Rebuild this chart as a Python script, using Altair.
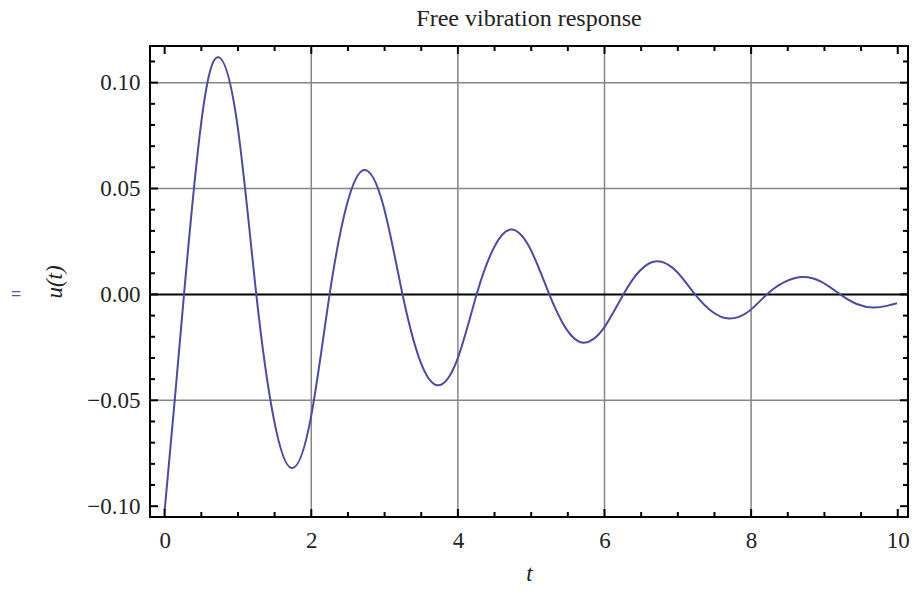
import altair as alt
import pandas as pd

# Displacement response u(t): crossings, half-way points and extrema along the curve
t_values = [0.0, 0.137, 0.264, 0.497, 0.73, 0.99, 1.25, 1.49, 1.73, 1.99, 2.25,
            2.485, 2.72, 2.98, 3.245, 3.48, 3.72, 3.99, 4.255, 4.49, 4.72, 4.98,
            5.247, 5.48, 5.71, 5.98, 6.257, 6.485, 6.71, 6.97, 7.235, 7.47, 7.70,
            7.96, 8.214, 8.46, 8.71, 8.96, 9.215, 9.44, 9.67, 9.85, 9.99]
u_values = [-0.102, -0.05, 0.0, 0.0806, 0.112, 0.0806, 0.0, -0.0590, -0.082, -0.0590, 0.0,
            0.0423, 0.0587, 0.0423, 0.0, -0.0309, -0.0429, -0.0309, 0.0, 0.0220, 0.0306, 0.0220,
            0.0, -0.0164, -0.0228, -0.0164, 0.0, 0.0113, 0.0157, 0.0113, 0.0, -0.0082, -0.0114,
            -0.0082, 0.0, 0.0059, 0.0082, 0.0059, 0.0, -0.0045, -0.0062, -0.0054, -0.0042]

# Frame ticks and grid lines
x_label_ticks = [0, 2, 4, 6, 8, 10]
x_minor_ticks = [0.5, 1, 1.5, 2.5, 3, 3.5, 4.5, 5, 5.5, 6.5, 7, 7.5, 8.5, 9, 9.5]
y_label_ticks = [-0.10, -0.05, 0.0, 0.05, 0.10]
y_minor_ticks = [-0.09, -0.08, -0.07, -0.06, -0.04, -0.03, -0.02, -0.01,
                 0.01, 0.02, 0.03, 0.04, 0.06, 0.07, 0.08, 0.09, 0.11]
x_grid = [2, 4, 6, 8]
y_grid = [-0.05, 0.05, 0.10]
y_axis_line = [0.0]

W, H = 758, 471
MAJOR, MINOR = 8, 5
SERIF = "Liberation Serif"
FS = 23
LINE_COLOR = "#4b4ba3"

x_scale = alt.Scale(domain=[-0.2, 10.14], nice=False, zero=False)
y_scale = alt.Scale(domain=[-0.1051, 0.1173], nice=False, zero=False)

x_axis = alt.Axis(values=x_label_ticks, format="d", ticks=False, domain=False, grid=False,
                  labelFont=SERIF, labelFontSize=FS, labelColor="#222", labelPadding=12,
                  title="t", titleFont=SERIF, titleFontSize=FS, titleFontStyle="italic",
                  titleFontWeight="normal", titleColor="#222", titlePadding=10)
y_axis = alt.Axis(values=y_label_ticks, format=".2f", ticks=False, domain=False, grid=False,
                  labelFont=SERIF, labelFontSize=FS, labelColor="#222", labelPadding=10,
                  title="u(t)", titleFont=SERIF, titleFontSize=FS, titleFontStyle="italic",
                  titleFontWeight="normal", titleColor="#222", titlePadding=20)


def xenc(field):
    return alt.X(field, type="quantitative", scale=x_scale, axis=x_axis)


def yenc(field):
    return alt.Y(field, type="quantitative", scale=y_scale, axis=y_axis)


curve = alt.Chart(pd.DataFrame({"t": t_values, "u": u_values})).mark_line(
    color=LINE_COLOR, strokeWidth=2, interpolate="natural", clip=True
).encode(x=xenc("t"), y=yenc("u"))


def vrules(values, **kw):
    return alt.Chart(pd.DataFrame({"t": values})).mark_rule(**kw).encode(x=xenc("t"))


def hrules(values, **kw):
    return alt.Chart(pd.DataFrame({"u": values})).mark_rule(**kw).encode(y=yenc("u"))


grid_v = vrules(x_grid, color="#858585", strokeWidth=1.5)
grid_h = hrules(y_grid, color="#858585", strokeWidth=1.5)
zero_line = hrules(y_axis_line, color="black", strokeWidth=2)


def x_ticks(values, length):
    df = pd.DataFrame({"t": values})
    top = alt.Chart(df).mark_rule(color="black", strokeWidth=2).encode(
        x=xenc("t"), y=alt.value(0), y2=alt.value(length))
    bottom = alt.Chart(df).mark_rule(color="black", strokeWidth=2).encode(
        x=xenc("t"), y=alt.value(H), y2=alt.value(H - length))
    return [top, bottom]


def y_ticks(values, length):
    df = pd.DataFrame({"u": values})
    left = alt.Chart(df).mark_rule(color="black", strokeWidth=2).encode(
        y=yenc("u"), x=alt.value(0), x2=alt.value(length))
    right = alt.Chart(df).mark_rule(color="black", strokeWidth=2).encode(
        y=yenc("u"), x=alt.value(W), x2=alt.value(W - length))
    return [left, right]


tick_layers = (x_ticks(x_label_ticks, MAJOR) + x_ticks(x_minor_ticks, MINOR)
               + y_ticks(y_label_ticks, MAJOR) + y_ticks(y_minor_ticks, MINOR))

# small glyph left of the vertical axis title
side_mark = alt.Chart(pd.DataFrame({"s": ["="]})).mark_text(
    font=SERIF, fontSize=18, fontWeight="bold", color="#4b5aa8"
).encode(text="s:N", x=alt.value(-134), y=alt.value(249))

chart = alt.layer(
    grid_v, grid_h, zero_line, curve, *tick_layers, side_mark
).properties(
    width=W, height=H,
    title=alt.TitleParams("Free vibration response", font=SERIF, fontSize=24,
                          fontWeight="normal", color="#222", anchor="middle", offset=14),
    autosize=alt.AutoSizeParams(type="none"),
    padding={"left": 150, "top": 46, "right": 5, "bottom": 75},
    background="white",
).configure_view(stroke="black", strokeWidth=2)

chart.save("out.html", embed_options={"renderer": "svg", "actions": False})
